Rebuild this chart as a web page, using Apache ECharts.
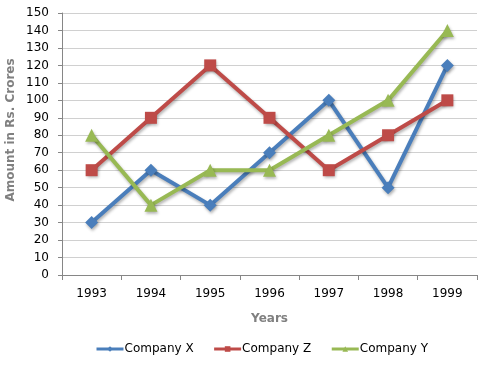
<!DOCTYPE html>
<html><head><meta charset="utf-8">
<script src="https://cdn.jsdelivr.net/npm/echarts@6/dist/echarts.min.js"></script>
<style>html,body{margin:0;padding:0;background:#fff}#c{width:483px;height:373px}</style>
</head><body><div id="c"></div>
<script>
const years = ['1993','1994','1995','1996','1997','1998','1999'];
const companyX = [30, 60, 40, 70, 100, 50, 120];
const companyZ = [60, 90, 120, 90, 60, 80, 100];
const companyY = [80, 40, 60, 60, 80, 100, 140];
const yName = 'Amount in Rs. Crores';

const font = 'DejaVu Sans, Verdana, sans-serif';
const chart = echarts.init(document.getElementById('c'));
function ser(name, data, color, symbol, size) {
  return {
    name, type: 'line', data, symbol, symbolSize: size,
    lineStyle: {width: 4, color, shadowColor: 'rgba(0,0,0,0.3)', shadowBlur: 3, shadowOffsetX: 1, shadowOffsetY: 2},
    itemStyle: {color, shadowColor: 'rgba(0,0,0,0.3)', shadowBlur: 3, shadowOffsetX: 1, shadowOffsetY: 2},
    animation: false
  };
}
chart.setOption({
  animation: false,
  grid: {left: 62, right: 6, top: 13, bottom: 98, containLabel: false},
  graphic: [{
    type: 'text', x: 5, y: 130, rotation: Math.PI / 2,
    style: {text: yName, fill: '#808080', font: 'bold 12px ' + font, align: 'center', verticalAlign: 'top'}
  }],
  xAxis: {
    type: 'category', data: years, boundaryGap: true,
    name: 'Years', nameLocation: 'middle', nameGap: 38,
    nameTextStyle: {color: '#808080', fontWeight: 'bold', fontSize: 12, fontFamily: font},
    axisLine: {lineStyle: {color: '#868686'}},
    axisTick: {show: true, length: 5, lineStyle: {color: '#868686'}},
    axisLabel: {color: '#000', fontSize: 12, fontFamily: font, margin: 13}
  },
  yAxis: {
    type: 'value', min: 0, max: 150, interval: 10,
    axisLine: {show: true, lineStyle: {color: '#868686'}},
    axisTick: {show: true, length: 4, lineStyle: {color: '#868686'}},
    axisLabel: {color: '#000', fontSize: 12, fontFamily: font, margin: 13},
    splitLine: {lineStyle: {color: '#d0d0d0'}}
  },
  legend: {
    bottom: 13, left: 90, itemWidth: 27, itemHeight: 7, itemGap: 19,
    lineStyle: {width: 3, shadowBlur: 0, shadowOffsetX: 0, shadowOffsetY: 0},
    itemStyle: {shadowBlur: 0, shadowOffsetX: 0, shadowOffsetY: 0},
    textStyle: {color: '#000', fontSize: 12, fontFamily: font, padding: [0,0,0,-4]},
    data: ['Company X', 'Company Z', 'Company Y']
  },
  series: [
    ser('Company X', companyX, '#4a7ebb', 'diamond', 13),
    ser('Company Z', companyZ, '#be4b48', 'rect', 12),
    ser('Company Y', companyY, '#98b954', 'triangle', 13)
  ]
});
</script></body></html>
